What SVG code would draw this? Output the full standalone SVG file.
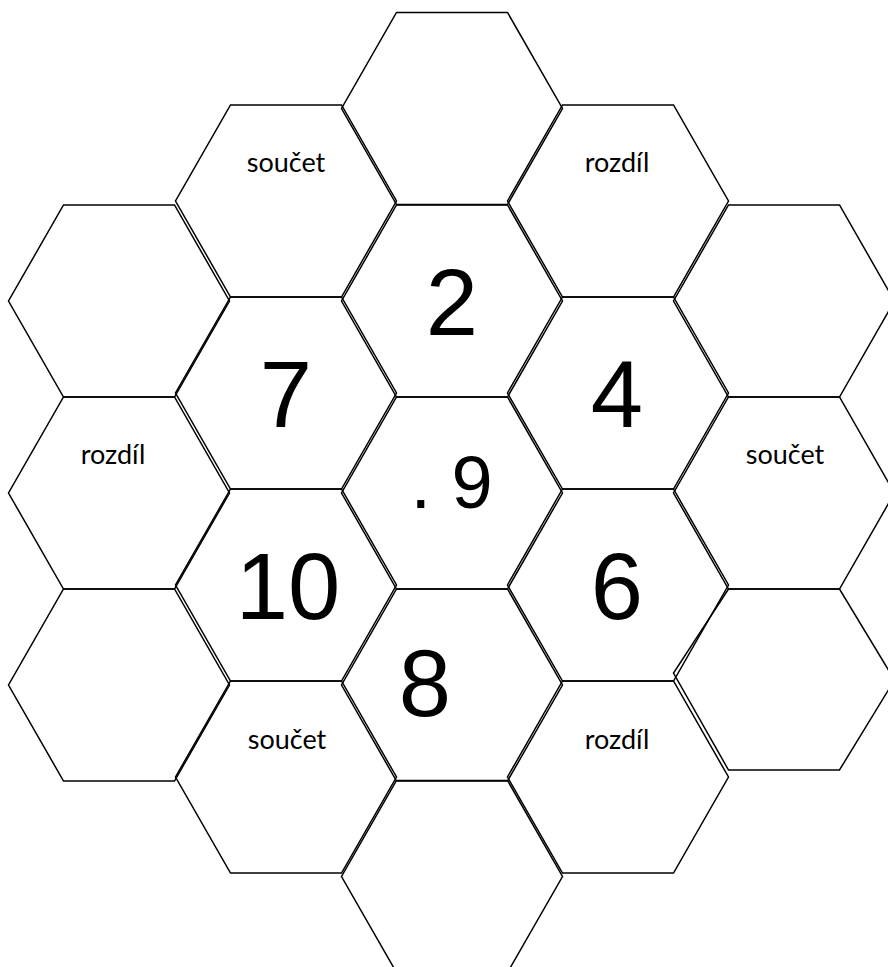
<svg xmlns="http://www.w3.org/2000/svg" width="888" height="967" viewBox="0 0 888 967">
<style>
.hex{fill:none;stroke:#000;stroke-width:1.5;stroke-linejoin:miter}
.lbl{font-family:Lato,"Open Sans","Noto Sans",sans-serif;font-size:27px;fill:#000;text-anchor:middle}
.num{font-family:"Liberation Sans",Arial,sans-serif;font-size:94px;fill:#000;text-anchor:middle}
.mid{font-family:"Liberation Sans",Arial,sans-serif;font-size:74px;fill:#000}
</style>
<rect width="888" height="967" fill="#fff"/>
<g id="hex-top"><polygon class="hex" points="396.5,12.5 507.5,12.5 562.5,108.5 507.5,204.5 396.5,204.5 341.5,108.5"/></g>
<g id="hex-2"><polygon class="hex" points="396.5,205 507.5,205 562.5,301 507.5,397 396.5,397 341.5,301"/><text class="num" x="452" y="335">2</text></g>
<g id="hex-center"><polygon class="hex" points="396.5,397 507.5,397 562.5,493 507.5,589 396.5,589 341.5,493"/><text class="mid" x="410.5" y="508">. 9</text></g>
<g id="hex-8"><polygon class="hex" points="396.5,589 507.5,589 562.5,685 507.5,781 396.5,781 341.5,685"/><text class="num" x="425" y="716">8</text></g>
<g id="hex-bottom"><polygon class="hex" points="396.5,780.5 507.5,780.5 562.5,876.5 507.5,972.5 396.5,972.5 341.5,876.5"/></g>
<g id="hex-soucet-top"><polygon class="hex" points="230.5,105 341.5,105 396.5,201 341.5,297 230.5,297 175.5,201"/><text class="lbl" x="286" y="172">součet</text></g>
<g id="hex-7"><polygon class="hex" points="230.5,297 341.5,297 396.5,393 341.5,489 230.5,489 175.5,393"/><text class="num" x="286" y="427">7</text></g>
<g id="hex-10"><polygon class="hex" points="230.5,489 341.5,489 396.5,585 341.5,681 230.5,681 175.5,585"/><text class="num" x="288" y="619">10</text></g>
<g id="hex-soucet-bottom"><polygon class="hex" points="230.5,681 341.5,681 396.5,777 341.5,873 230.5,873 175.5,777"/><text class="lbl" x="287" y="749">součet</text></g>
<g id="hex-rozdil-top"><polygon class="hex" points="562.5,105 673.5,105 728.5,201 673.5,297 562.5,297 507.5,201"/><text class="lbl" x="617" y="172">rozdíl</text></g>
<g id="hex-4"><polygon class="hex" points="562.5,297 673.5,297 728.5,393 673.5,489 562.5,489 507.5,393"/><text class="num" x="617" y="427">4</text></g>
<g id="hex-6"><polygon class="hex" points="562.5,489 673.5,489 728.5,585 673.5,681 562.5,681 507.5,585"/><text class="num" x="617" y="619">6</text></g>
<g id="hex-rozdil-bottom"><polygon class="hex" points="562.5,681 673.5,681 728.5,777 673.5,873 562.5,873 507.5,777"/><text class="lbl" x="617" y="749">rozdíl</text></g>
<g id="hex-left-top"><polygon class="hex" points="63.5,205 174.5,205 229.5,301 174.5,397 63.5,397 8.5,301"/></g>
<g id="hex-rozdil-left"><polygon class="hex" points="63.5,397 174.5,397 229.5,493 174.5,589 63.5,589 8.5,493"/><text class="lbl" x="113" y="464">rozdíl</text></g>
<g id="hex-left-bottom"><polygon class="hex" points="63.5,589 174.5,589 229.5,685 174.5,781 63.5,781 8.5,685"/></g>
<g id="hex-right-top"><polygon class="hex" points="728.5,205 839.5,205 894.5,301 839.5,397 728.5,397 673.5,301"/></g>
<g id="hex-soucet-right"><polygon class="hex" points="728.5,397 839.5,397 894.5,493 839.5,589 728.5,589 673.5,493"/><text class="lbl" x="785" y="464">součet</text></g>
<g id="hex-right-bottom"><polygon class="hex" points="728.5,589 839.5,589 894.5,680 839.5,770 728.5,770 673.5,673"/></g>
</svg>
